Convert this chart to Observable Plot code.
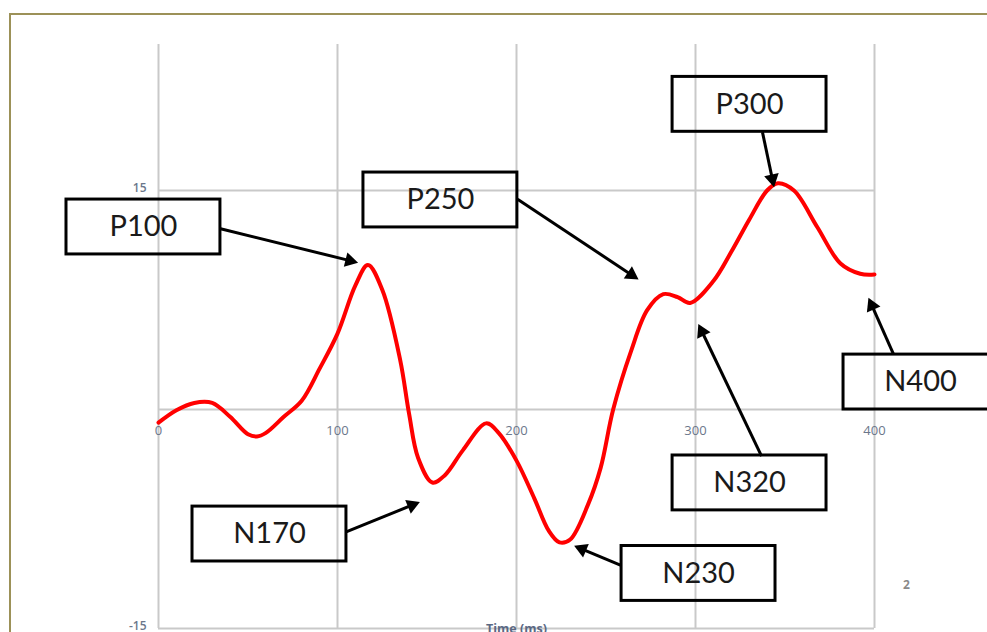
<!DOCTYPE html>
<html>
<head>
<meta charset="utf-8">
<script src="https://cdn.jsdelivr.net/npm/d3@7"></script>
<script src="https://cdn.jsdelivr.net/npm/@observablehq/plot@0.6"></script>
<style>
  html, body { margin: 0; padding: 0; background: #fff; }
  #wrap { position: relative; width: 987px; height: 632px; overflow: hidden; background: #fff; }
  #frame { position: absolute; left: 9px; top: 13px; width: 1000px; height: 700px;
           border-top: 2px solid #9c9158; border-left: 2px solid #9c9158; }
  #chart { position: absolute; left: 0; top: 0; }
</style>
</head>
<body>
<div id="wrap"><div id="frame"></div><div id="chart"></div></div>
<script>
// Waveform (time in ms, amplitude)
const times  = [0, 10, 20, 30, 40, 50, 55, 60, 70, 80, 90, 100, 110, 117, 125, 135, 140, 145, 153, 160, 170, 183, 190, 200, 210, 218, 224, 230, 240, 247, 254, 264, 273, 282, 290, 297, 310, 320, 330, 340, 346, 355, 368, 381, 392, 400];
const values = [-0.9, -0.05, 0.45, 0.45, -0.5, -1.7, -1.85, -1.6, -0.5, 0.6, 2.8, 5.2, 8.5, 9.9, 8.2, 3.4, -0.3, -3.3, -5.0, -4.5, -2.8, -0.95, -1.6, -3.5, -6.1, -8.3, -9.1, -8.9, -6.5, -4.0, 0.0, 4.0, 6.8, 7.9, 7.7, 7.3, 8.8, 10.8, 13.0, 15.0, 15.5, 15.0, 12.5, 10.0, 9.3, 9.25];

// Axis ticks
const xTicks = [0, 100, 200, 300, 400];
const yTickLabels = [15, -15];
const yGrid = [15, 0, -15];
const xTitle = "Time (ms)";
const pageNumber = "2";

// Component annotations: label, box centre (t, v), arrow start and tip
const compNames = ["P100", "P250", "P300", "N170", "N230", "N320", "N400"];
const boxT   = [-8.4, 157.5, 330.2, 62.0, 301.7, 330.2, 425.7];
const boxV   = [12.5, 14.35, 20.9, -8.53, -11.23, -5.03, 1.88];
const arrT1  = [34.1, 200.6, 337.4, 104.5, 258.7, 336.9, 410.6];
const arrV1  = [12.4, 14.4, 19.0, -8.4, -10.7, -3.2, 3.8];
const arrT2  = [110.1, 267.0, 343.6, 144.7, 233.5, 302.2, 397.2];
const arrV2  = [10.1, 9.0, 15.4, -6.4, -9.4, 5.7, 7.5];

// layout
const W = 987, H = 632, mL = 158, mR = 113, mT = 44, mB = 4;
const xDom = [0, 400], yDom = [-15, 25];
const kx = (W - mL - mR) / (xDom[1] - xDom[0]);   // px per ms
const ky = (H - mT - mB) / (yDom[1] - yDom[0]);   // px per unit

const wave = times.map((t, i) => ({t, v: values[i]}));
const headBack = 6; // px from tip to triangle centre
const comps = compNames.map((name, i) => {
  const dxp = (arrT2[i] - arrT1[i]) * kx;
  const dyp = -(arrV2[i] - arrV1[i]) * ky;
  const len = Math.hypot(dxp, dyp);
  const ux = dxp / len, uy = dyp / len;
  return {name, t: boxT[i], v: boxV[i],
    x1: arrT1[i], y1: arrV1[i], x2: arrT2[i], y2: arrV2[i],
    hx: arrT2[i] - ux * headBack / kx,
    hy: arrV2[i] + uy * headBack / ky,
    lx: arrT2[i] - ux * (headBack + 2) / kx,
    ly: arrV2[i] + uy * (headBack + 2) / ky,
    rot: Math.atan2(dxp, -dyp) * 180 / Math.PI};
});

const boxHalfW = 43, boxHalfH = 1.88;
const tickColor = "#6b778b";
const gridColor = "#c9c9c9";

const chart = Plot.plot({
  width: W,
  height: H,
  marginLeft: mL,
  marginRight: mR,
  marginTop: mT,
  marginBottom: mB,
  x: {domain: xDom, axis: null},
  y: {domain: yDom, axis: null},
  style: {fontFamily: "'Open Sans', sans-serif", background: "transparent"},
  marks: [
    Plot.ruleX(xTicks, {x: d => d, y1: -15, y2: 25, stroke: gridColor, strokeWidth: 2}),
    Plot.ruleY(yGrid, {y: d => d, x1: 0, x2: 400, stroke: gridColor, strokeWidth: 2}),
    Plot.text(xTicks, {x: d => d, y: 0, text: d => String(d), dy: 21, fill: tickColor, fontSize: 13, textAnchor: "middle"}),
    Plot.text(yTickLabels, {x: 0, y: d => d, text: d => String(d), dx: -12, dy: -2, fill: tickColor, fontSize: 12, fontWeight: 600, textAnchor: "end"}),
    Plot.text([xTitle], {x: 200, y: -15, text: d => d, dy: 0, fill: "#5a6883", fontSize: 12.5, fontWeight: "bold", textAnchor: "middle"}),
    Plot.text([pageNumber], {x: 417.9, y: -12.0, text: d => d, fill: "#8a8a8a", fontSize: 12, fontWeight: "bold"}),
    Plot.line(wave, {x: "t", y: "v", stroke: "#ff0000", strokeWidth: 4, curve: "catmull-rom"}),
    Plot.rect(comps, {x1: d => d.t - boxHalfW, x2: d => d.t + boxHalfW, y1: d => d.v - boxHalfH, y2: d => d.v + boxHalfH,
      fill: "none", stroke: "#000", strokeWidth: 3}),
    Plot.text(comps, {x: "t", y: "v", text: "name", fontSize: 29, fill: "#1a1a1a", fontFamily: "Lato, sans-serif", textAnchor: "middle"}),
    Plot.link(comps, {x1: "x1", y1: "y1", x2: "lx", y2: "ly", stroke: "#000", strokeWidth: 3}),
    Plot.dot(comps, {x: "hx", y: "hy", rotate: "rot", symbol: "triangle", r: 5.5, fill: "#000", stroke: "none"})
  ]
});
document.getElementById("chart").appendChild(chart);
</script>
</body>
</html>
